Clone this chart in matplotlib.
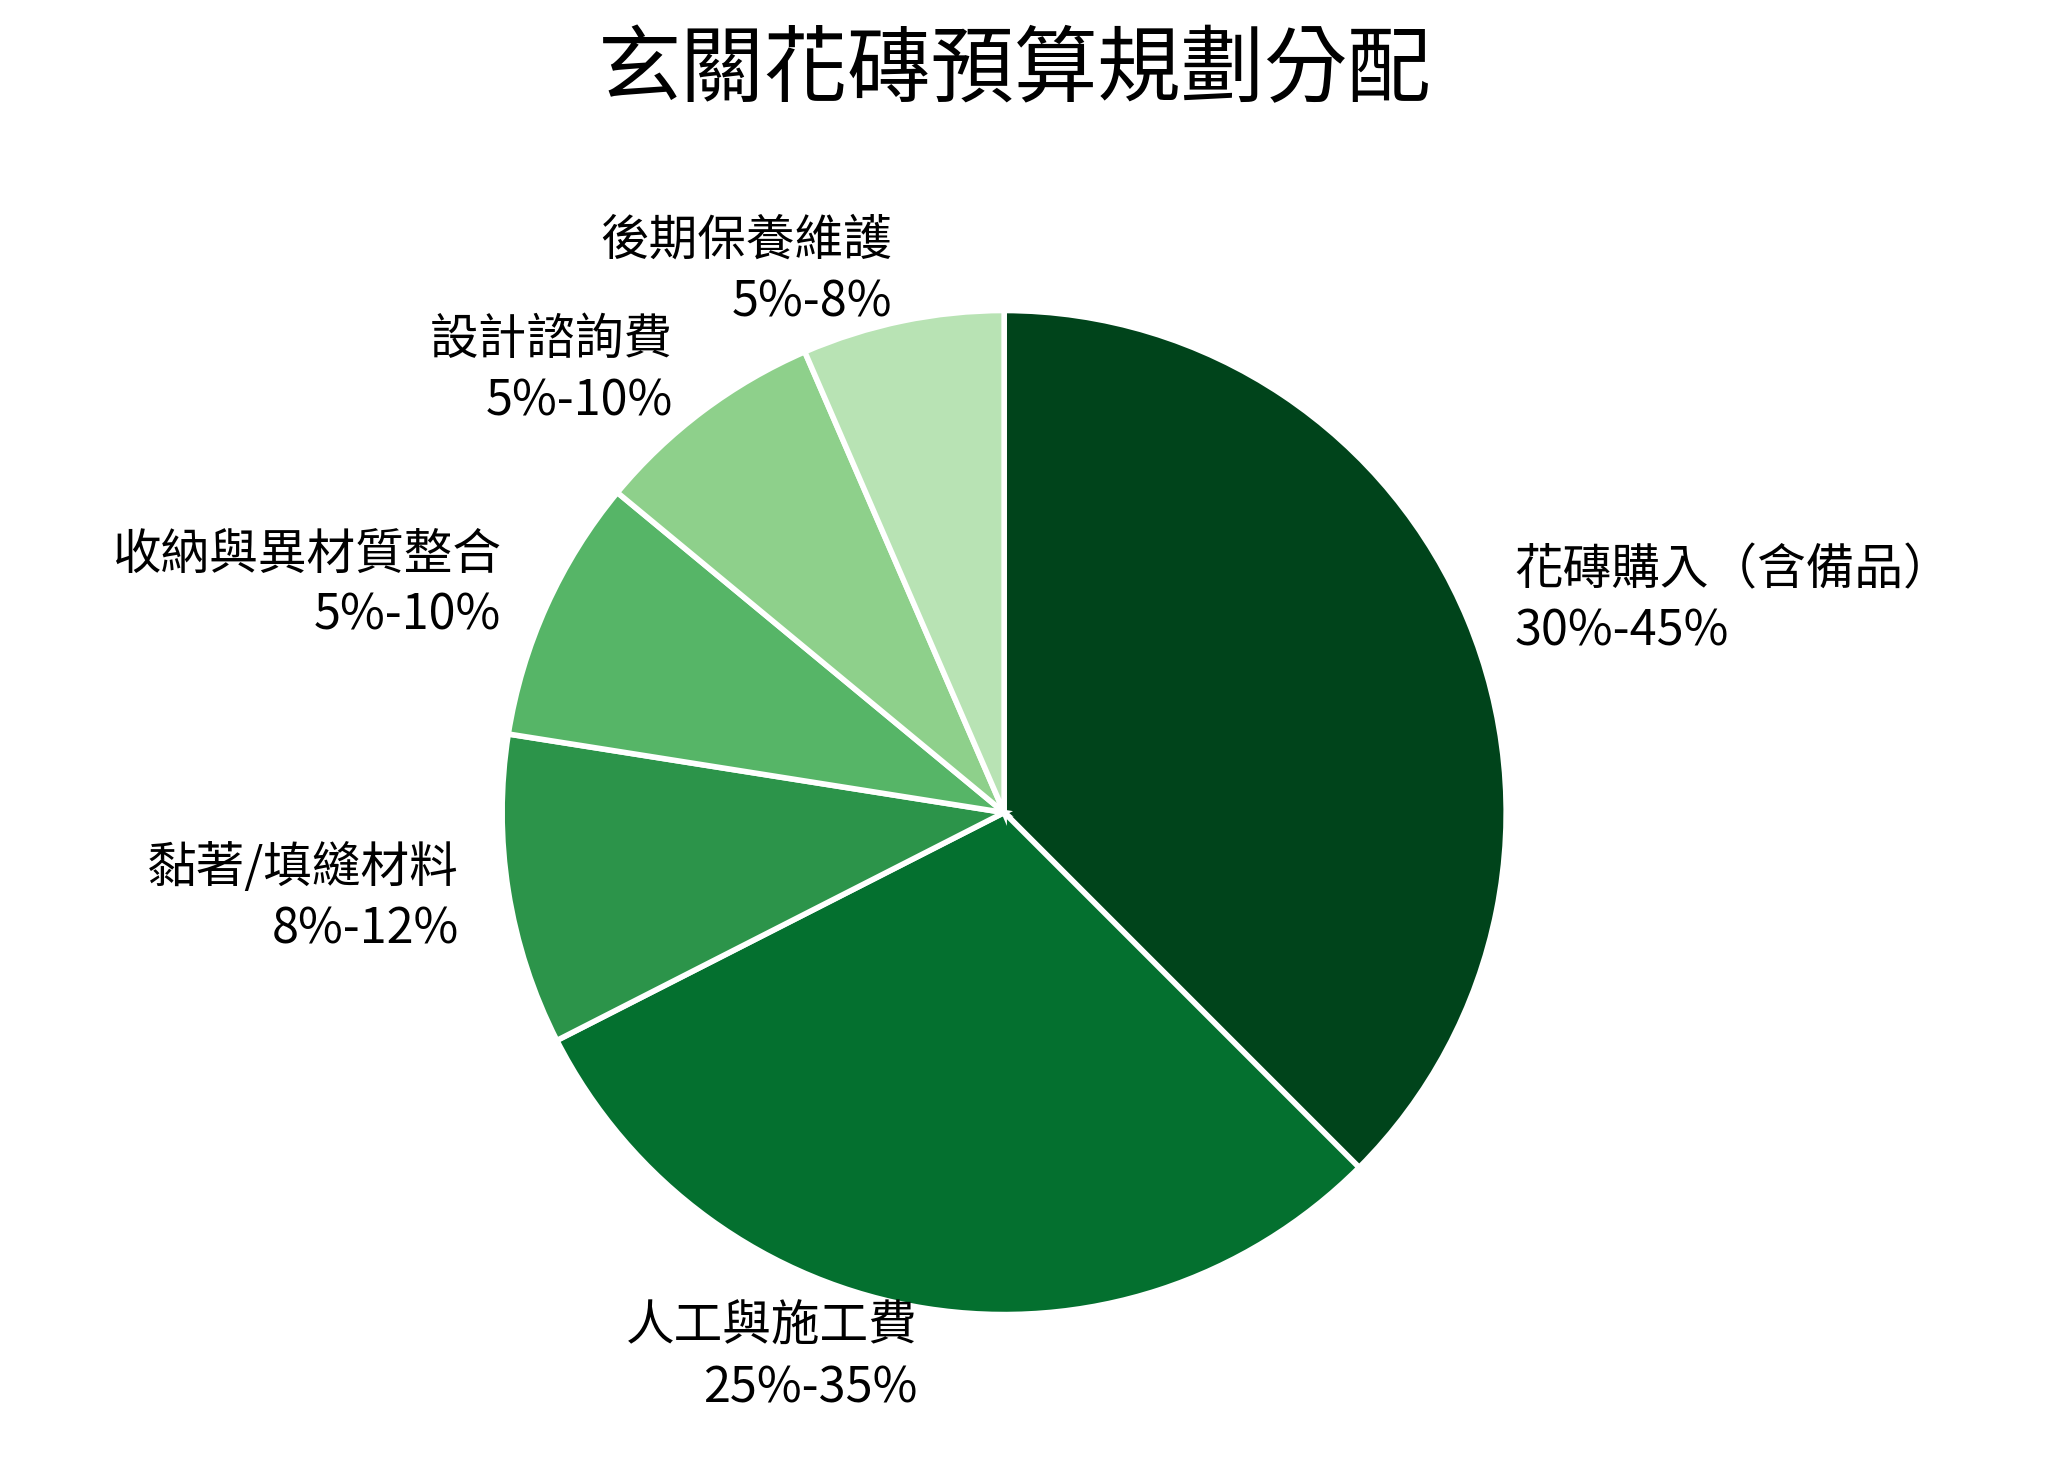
import matplotlib.pyplot as plt

plt.rcParams['font.family'] = ['Noto Sans CJK TC', 'DejaVu Sans']

categories = ["花磚購入（含備品）", "人工與施工費", "黏著/填縫材料", "收納與異材質整合", "設計諮詢費", "後期保養維護"]
ranges = ["30%-45%", "25%-35%", "8%-12%", "5%-10%", "5%-10%", "5%-8%"]
shares = [37.5, 30, 10, 8.5, 7.5, 6.5]
colors = ["#00441b", "#04702f", "#2c944a", "#56b567", "#8ed08b", "#b8e3b4"]

fig = plt.figure(figsize=(20.67, 14.68), dpi=100)
ax = fig.add_axes([0.2405, 0.101, 0.4906, 0.691])
labels = [c + "\n" + r for c, r in zip(categories, ranges)]
wedges, texts = ax.pie(shares, labels=labels, colors=colors, startangle=90, counterclock=False,
                       labeldistance=1.1, wedgeprops=dict(edgecolor="white", linewidth=4),
                       textprops=dict(fontsize=35, linespacing=1.3))
ax.set_xlim(-1.01, 1.01)
ax.set_ylim(-1.01, 1.01)
ax.set_aspect("equal")
fig.text(0.491, 0.952, "玄關花磚預算規劃分配", fontsize=60, ha="center", va="center")
fig.savefig("out.png", dpi=100)
